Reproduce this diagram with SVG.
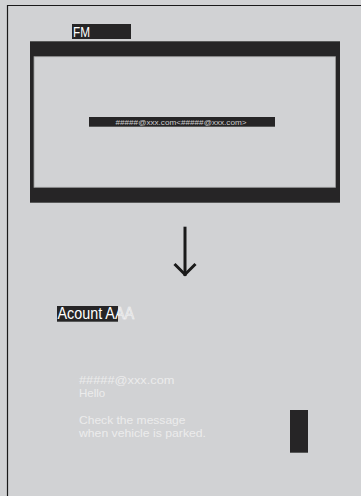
<svg xmlns="http://www.w3.org/2000/svg" width="361" height="496" viewBox="0 0 361 496">
<style>
.dk{fill:#262526}
.t{font-family:"Liberation Sans",Arial,sans-serif}
.lt{fill:#ececec;font-size:11.5px}
</style>
<defs>
<clipPath id="accIn"><rect x="57" y="306" width="61" height="15.7"/></clipPath>
<clipPath id="accOut"><rect x="118" y="300" width="30" height="25"/></clipPath>
</defs>
<rect x="0" y="0" width="361" height="496" fill="#d1d2d4"/>
<path d="M7.5 496V5.5H361" fill="none" stroke="#1a1a1a" stroke-width="1.2"/>
<g id="fm-label">
<rect class="dk" x="72" y="24" width="59" height="15"/>
<text class="t" x="73" y="37.2" font-size="15" fill="#fff" textLength="17" lengthAdjust="spacingAndGlyphs">FM</text>
</g>
<g id="fm-screen">
<rect class="dk" x="30" y="41.3" width="310" height="161.4"/>
<rect x="34" y="56.7" width="301.5" height="130.6" fill="#d1d2d4" stroke="#9c9c9c" stroke-width="0.8"/>
<rect class="dk" x="89" y="117" width="186" height="9.7"/>
<text class="t" x="181" y="124.6" font-size="7.6" fill="#cfcfcf" text-anchor="middle" textLength="131" lengthAdjust="spacingAndGlyphs">#####@xxx.com&lt;#####@xxx.com&gt;</text>
</g>
<g id="connectors">
<path d="M185 226.7V276" fill="none" stroke="#1a1a1a" stroke-width="3"/>
<path d="M174.5 264L185 274.5L195.5 264" fill="none" stroke="#1a1a1a" stroke-width="3"/>
</g>
<g id="account">
<rect class="dk" x="57" y="306" width="61" height="15.7"/>
<text class="t" x="57.5" y="319.3" font-size="16" fill="#d1d2d4" stroke="#f4f4f4" stroke-width="0.7" clip-path="url(#accOut)" textLength="76.5" lengthAdjust="spacingAndGlyphs">Acount AAA</text>
<text class="t" x="57.5" y="319.3" font-size="16" fill="#fff" clip-path="url(#accIn)" textLength="76.5" lengthAdjust="spacingAndGlyphs">Acount AAA</text>
</g>
<g id="message">
<text class="t lt" x="79" y="383.5" textLength="95.5" lengthAdjust="spacingAndGlyphs">#####@xxx.com</text>
<text class="t lt" x="79" y="397.3">Hello</text>
<text class="t lt" x="79" y="424.3" textLength="106.5" lengthAdjust="spacingAndGlyphs">Check the message</text>
<text class="t lt" x="79" y="437.3" textLength="127" lengthAdjust="spacingAndGlyphs">when vehicle is parked.</text>
<rect class="dk" x="290" y="410" width="18" height="42.7"/>
</g>
</svg>
